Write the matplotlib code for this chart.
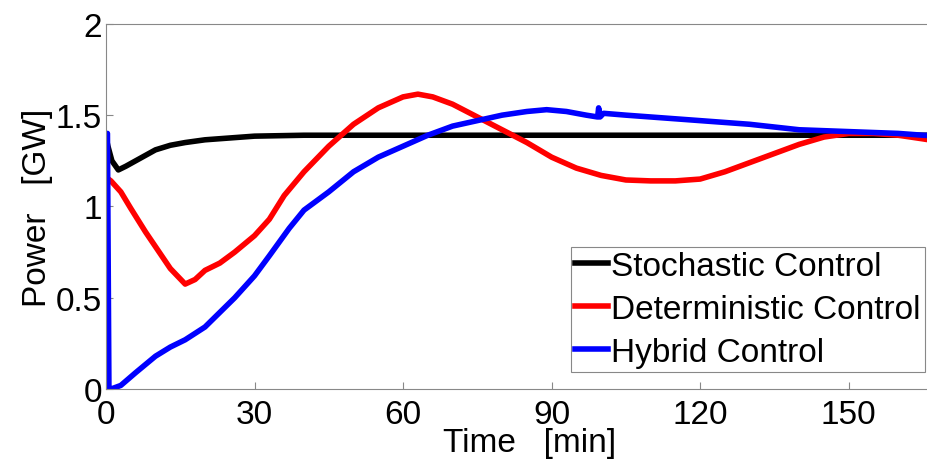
import matplotlib.pyplot as plt

# time axis [min] and power [GW]
t_stoch = [0, 0.4, 1.2, 2.5, 4, 6, 8, 10, 13, 16, 20, 25, 30, 40, 60, 100, 172]
p_stoch = [1.38, 1.33, 1.25, 1.20, 1.22, 1.25, 1.28, 1.31, 1.335, 1.35, 1.365, 1.375, 1.385, 1.39, 1.39, 1.39, 1.39]

t_det = [0.5, 1, 3, 5, 8, 10, 13, 16, 18, 20, 23, 26, 30, 33, 36, 40, 45, 50, 55, 60, 63,
         66, 70, 75, 80, 85, 90, 95, 100, 105, 110, 115, 120, 125, 130, 135, 140, 145,
         150, 155, 160, 165, 172]
p_det = [1.15, 1.14, 1.08, 0.99, 0.86, 0.78, 0.66, 0.575, 0.60, 0.65, 0.69, 0.75, 0.84,
         0.93, 1.06, 1.19, 1.33, 1.45, 1.54, 1.60, 1.615, 1.60, 1.56, 1.49, 1.42, 1.35,
         1.27, 1.21, 1.17, 1.145, 1.14, 1.14, 1.15, 1.19, 1.24, 1.29, 1.34, 1.38, 1.40,
         1.40, 1.39, 1.37, 1.34]

t_hyb = [0, 0.3, 0.6, 1, 3, 6, 10, 13, 16, 20, 23, 26, 30, 33, 37, 40, 45, 50, 55, 60,
         65, 70, 75, 80, 85, 89, 93, 97, 99.3, 99.5, 99.8, 100.5, 105, 110, 120, 130,
         140, 150, 160, 165, 172]
p_hyb = [1.38, 1.40, 0.0, 0.0, 0.02, 0.09, 0.18, 0.23, 0.27, 0.34, 0.42, 0.50, 0.62,
         0.73, 0.88, 0.98, 1.08, 1.19, 1.27, 1.33, 1.39, 1.44, 1.47, 1.50, 1.52, 1.53,
         1.52, 1.50, 1.49, 1.54, 1.49, 1.51, 1.50, 1.49, 1.47, 1.45, 1.42, 1.41, 1.40,
         1.39, 1.38]

x_ticks = [0, 30, 60, 90, 120, 150]
y_ticks = [0, 0.5, 1, 1.5, 2]
y_tick_labels = ['0', '0.5', '1', '1.5', '2']

plt.rcParams['font.family'] = ['Liberation Sans', 'DejaVu Sans']
plt.rcParams['font.size'] = 24

fig = plt.figure(figsize=(9.27, 4.60), dpi=100)
# the original figure is cropped on the right, so the axes run past the edge
ax = fig.add_axes([0.1143, 0.152, 0.915, 0.794])

ax.plot(t_stoch, p_stoch, color='black', lw=4, label='Stochastic Control', solid_joinstyle='round')
ax.plot(t_det, p_det, color='#ff0000', lw=4, label='Deterministic Control', solid_joinstyle='round')
ax.plot(t_hyb, p_hyb, color='#0000ff', lw=4, label='Hybrid Control', solid_joinstyle='round')

ax.set_xlim(0, 171.3)
ax.set_ylim(0, 2)
ax.set_xticks(x_ticks)
ax.set_yticks(y_ticks)
ax.set_yticklabels(y_tick_labels)
ax.tick_params(direction='in', length=5, color='#888888')
ax.tick_params(axis='x', pad=7)
ax.tick_params(axis='y', pad=3)
for s in ax.spines.values():
    s.set_color('#888888')
    s.set_linewidth(0.8)

ax.set_xlabel('Time   [min]', labelpad=-2)
ax.set_ylabel('Power   [GW]', labelpad=2)

leg = ax.legend(loc='lower right', bbox_to_anchor=(925 / 927, 87 / 460),
                bbox_transform=fig.transFigure, handlelength=1.0,
                handletextpad=0.1, borderpad=0.12, labelspacing=0.36,
                fancybox=False, framealpha=1, borderaxespad=0)
leg.get_frame().set_edgecolor('#888888')
leg.get_frame().set_linewidth(0.8)

fig.savefig('out.png', dpi=100)
